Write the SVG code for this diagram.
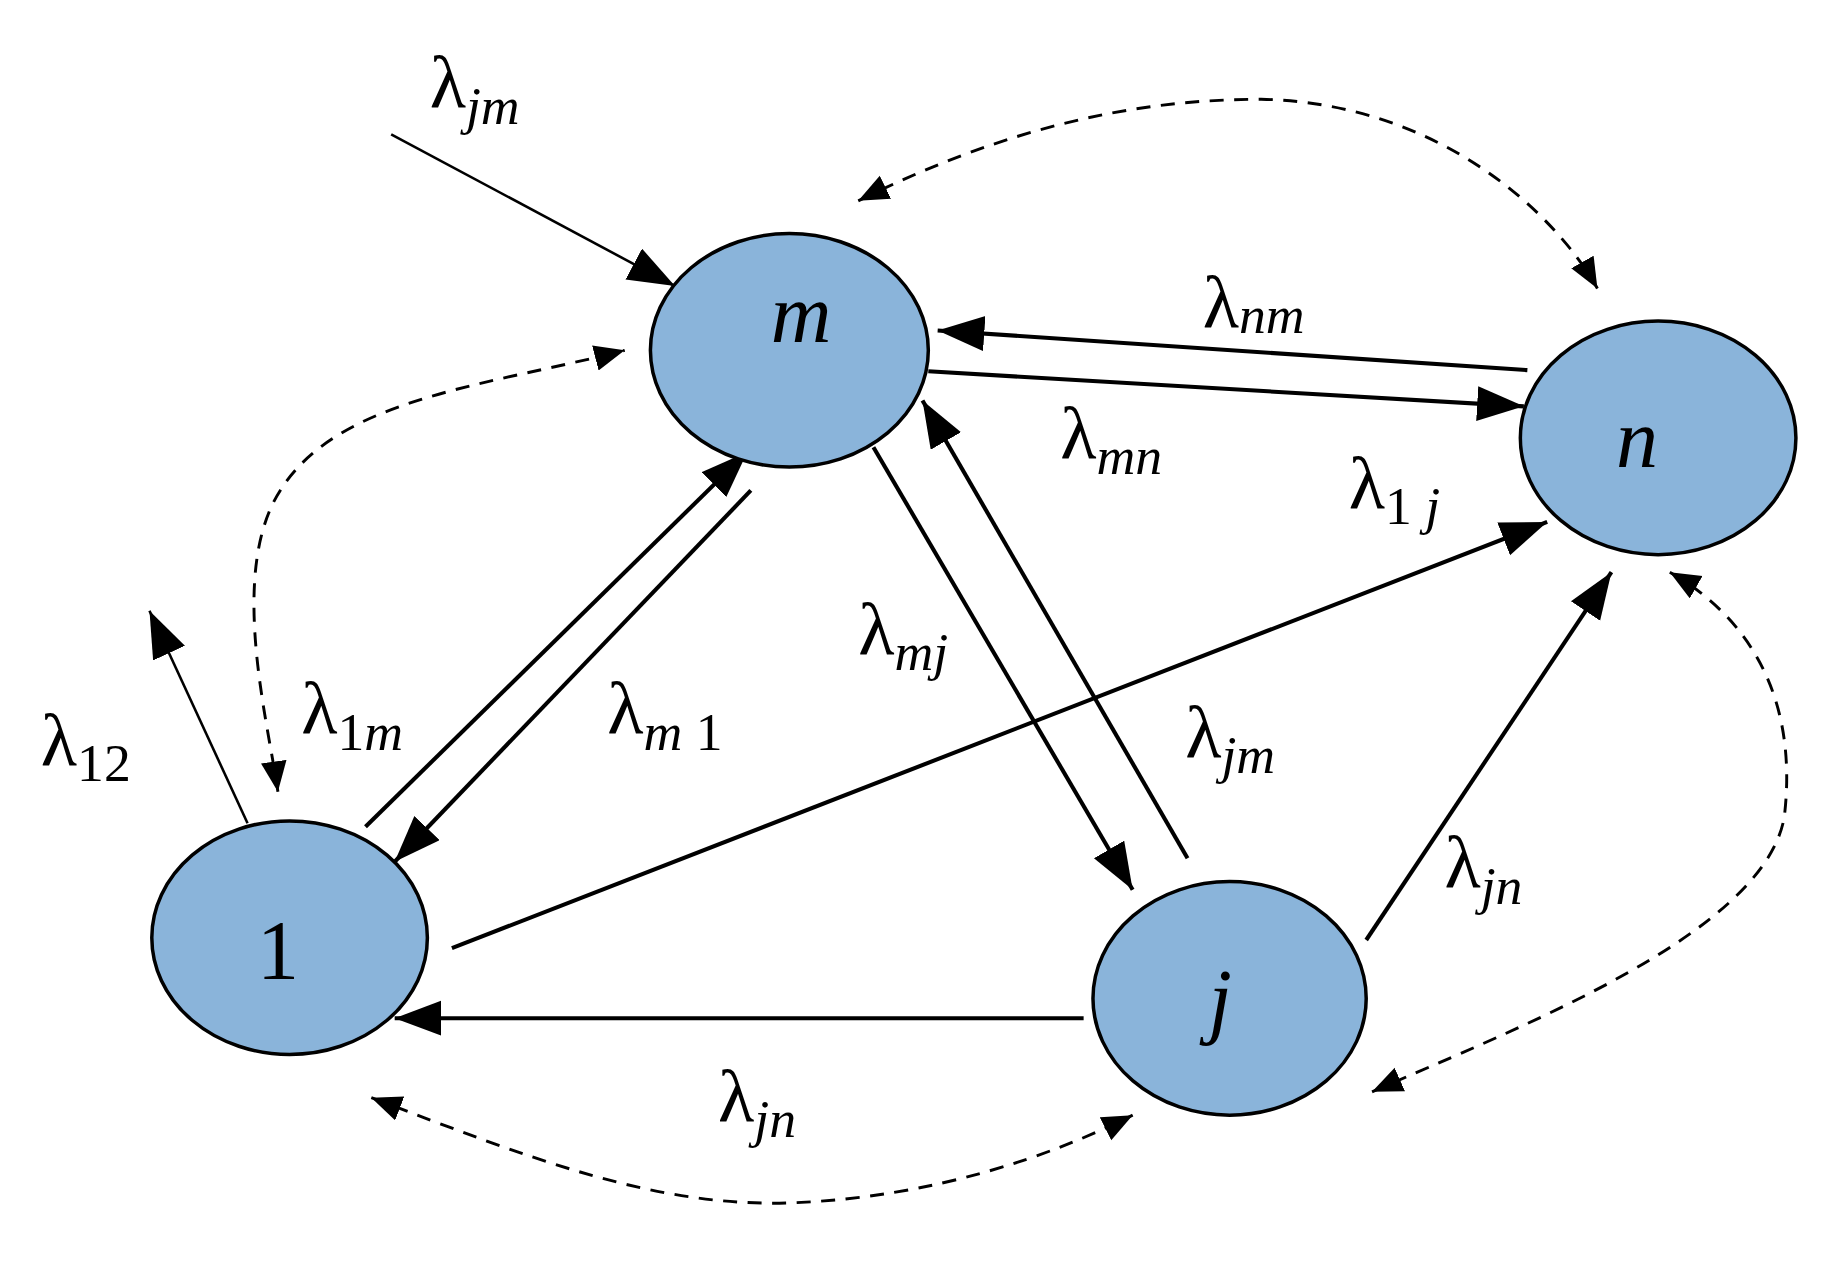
<svg xmlns="http://www.w3.org/2000/svg" width="1831" height="1262" viewBox="0 0 1831 1262">
<defs>
<marker id="ah" markerUnits="userSpaceOnUse" markerWidth="44" markerHeight="34" refX="40" refY="15" orient="auto"><path d="M0,0 L40,15 L0,30 Z" fill="#000"/></marker>
<marker id="ad" markerUnits="userSpaceOnUse" markerWidth="30" markerHeight="26" refX="26" refY="11" orient="auto-start-reverse"><path d="M0,0 L26,11 L0,22 Z" fill="#000"/></marker>
<style>
.nd{fill:#8ab4da;stroke:#000;stroke-width:3}
.s{stroke:#000;stroke-width:3.5;fill:none;marker-end:url(#ah)}
.t{stroke:#000;stroke-width:2.2;fill:none;marker-end:url(#ah)}
.d{stroke:#000;stroke-width:2.5;fill:none;stroke-dasharray:12 9;marker-start:url(#ad);marker-end:url(#ad)}
text{font-family:"Liberation Serif","Times New Roman",serif;fill:#000}
.l{font-size:64px}
.b{font-size:46px;font-style:italic}
.u{font-style:normal}
.nl{font-size:72px;font-style:italic;text-anchor:middle}
</style>
</defs>
<rect width="1831" height="1262" fill="#fff"/>
<g transform="scale(1.1677)">
<g id="connectors">
<line class="t" x1="335" y1="115" x2="578" y2="245"/>
<line class="s" x1="1308" y1="317" x2="803" y2="283"/>
<line class="s" x1="795" y1="318" x2="1305" y2="348"/>
<line class="s" x1="313" y1="708" x2="640" y2="387"/>
<line class="s" x1="643" y1="420" x2="338" y2="738"/>
<line class="s" x1="748" y1="383" x2="970" y2="762"/>
<line class="s" x1="1017" y1="735" x2="790" y2="343"/>
<line class="s" x1="387" y1="812" x2="1325" y2="447"/>
<line class="s" x1="1170" y1="805" x2="1380" y2="490"/>
<line class="s" x1="928" y1="872" x2="338" y2="872"/>
<line class="t" x1="212" y1="705" x2="128" y2="523"/>
<path class="d" d="M735,172 C860,110 970,85 1080,85 C1230,88 1330,180 1368,247"/>
<path class="d" d="M238,678 C230,620 195,490 240,420 C290,340 420,330 535,300"/>
<path class="d" d="M318,940 C450,990 560,1035 680,1030 C800,1025 900,990 970,955"/>
<path class="d" d="M1430,490 C1500,530 1540,600 1528,700 C1510,800 1300,880 1175,935"/>
</g>
<g id="labels">
<text class="l" x="368" y="92">λ<tspan class="b" dy="14">jm</tspan></text>
<text class="l" x="1030" y="280">λ<tspan class="b" dy="5">nm</tspan></text>
<text class="l" x="908" y="392">λ<tspan class="b" dy="14">mn</tspan></text>
<text class="l" x="1155" y="435">λ<tspan class="b" dy="14"><tspan class="u">1 </tspan>j</tspan></text>
<text class="l" x="735" y="560">λ<tspan class="b" dy="14">mj</tspan></text>
<text class="l" x="1015" y="648">λ<tspan class="b" dy="14">jm</tspan></text>
<text class="l" x="1237" y="760">λ<tspan class="b" dy="14">jn</tspan></text>
<text class="l" x="615" y="960">λ<tspan class="b" dy="14">jn</tspan></text>
<text class="l" x="35" y="655">λ<tspan class="b u" dy="14">12</tspan></text>
<text class="l" x="258" y="628">λ<tspan class="b" dy="14"><tspan class="u">1</tspan>m</tspan></text>
<text class="l" x="520" y="628">λ<tspan class="b" dy="14">m<tspan class="u"> 1</tspan></tspan></text>
</g>
<g id="node-m"><ellipse class="nd" cx="676" cy="300" rx="119" ry="100"/><text class="nl" x="686" y="293">m</text></g>
<g id="node-n"><ellipse class="nd" cx="1420" cy="375" rx="118" ry="100"/><text class="nl" x="1402" y="400">n</text></g>
<g id="node-1"><ellipse class="nd" cx="248" cy="803" rx="118" ry="100"/><text class="nl" x="238" y="838" style="font-style:normal">1</text></g>
<g id="node-j"><ellipse class="nd" cx="1053" cy="855" rx="117" ry="100"/><text class="nl" x="1045" y="880">j</text></g>
</g>
</svg>
